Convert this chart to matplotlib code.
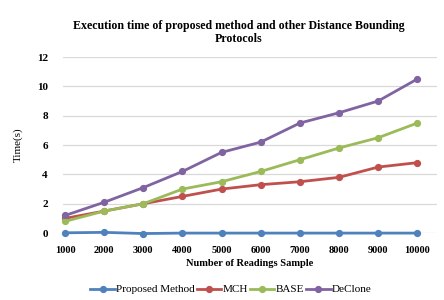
import matplotlib
matplotlib.use("Agg")
import matplotlib.pyplot as plt

categories = ["1000", "2000", "3000", "4000", "5000", "6000", "7000", "8000", "9000", "10000"]
proposed = [0.02, 0.05, -0.03, 0.0, 0.0, 0.0, 0.0, 0.0, 0.0, 0.0]
mch = [1.0, 1.5, 2.0, 2.5, 3.0, 3.3, 3.5, 3.8, 4.5, 4.8]
base = [0.8, 1.5, 2.0, 3.0, 3.5, 4.2, 5.0, 5.8, 6.5, 7.5]
declone = [1.2, 2.1, 3.1, 4.2, 5.5, 6.2, 7.5, 8.2, 9.0, 10.5]
yticks = [0, 2, 4, 6, 8, 10, 12]

series = [("Proposed Method", proposed, "#4F81BD"),
          ("MCH", mch, "#C0504D"),
          ("BASE", base, "#9BBB59"),
          ("DeClone", declone, "#8064A2")]

plt.rcParams['font.family'] = ['Liberation Serif', 'DejaVu Serif']

fig = plt.figure(figsize=(4.44, 3.0), dpi=100)
ax = fig.add_axes([0.142, 0.223, 0.842, 0.587])
x = list(range(len(categories)))
for name, vals, col in series:
    ax.plot(x, vals, color=col, lw=2.0, marker='o', ms=4.2, label=name, clip_on=False, zorder=3)

ax.set_ylim(0, 12)
ax.set_xlim(-0.05, 9.5)
ax.set_yticks(yticks)
ax.set_yticklabels([str(v) for v in yticks], fontweight='bold', fontsize=8)
ax.set_xticks(x)
ax.set_xticklabels(categories, fontweight='bold', fontsize=7.5)
ax.tick_params(length=0, pad=9)
ax.tick_params(axis='y', pad=11)
ax.grid(axis='y', color='#D9D9D9', lw=0.9)
ax.set_axisbelow(True)
for s in ax.spines.values():
    s.set_visible(False)

fig.suptitle("Execution time of proposed method and other Distance Bounding\nProtocols",
             x=0.538, y=0.935, va='top', fontweight='bold', fontsize=8.6, linespacing=1.15)
ax.set_xlabel("Number of Readings Sample", fontweight='bold', fontsize=7.5, labelpad=3)
ax.set_ylabel("Time(s)", fontsize=8, labelpad=10)

fig.legend(loc='lower center', bbox_to_anchor=(0.52, -0.015), ncol=4, frameon=False,
           fontsize=8, handlelength=2.2, handletextpad=0.1, columnspacing=0.2)

fig.savefig("out.png", dpi=100)
